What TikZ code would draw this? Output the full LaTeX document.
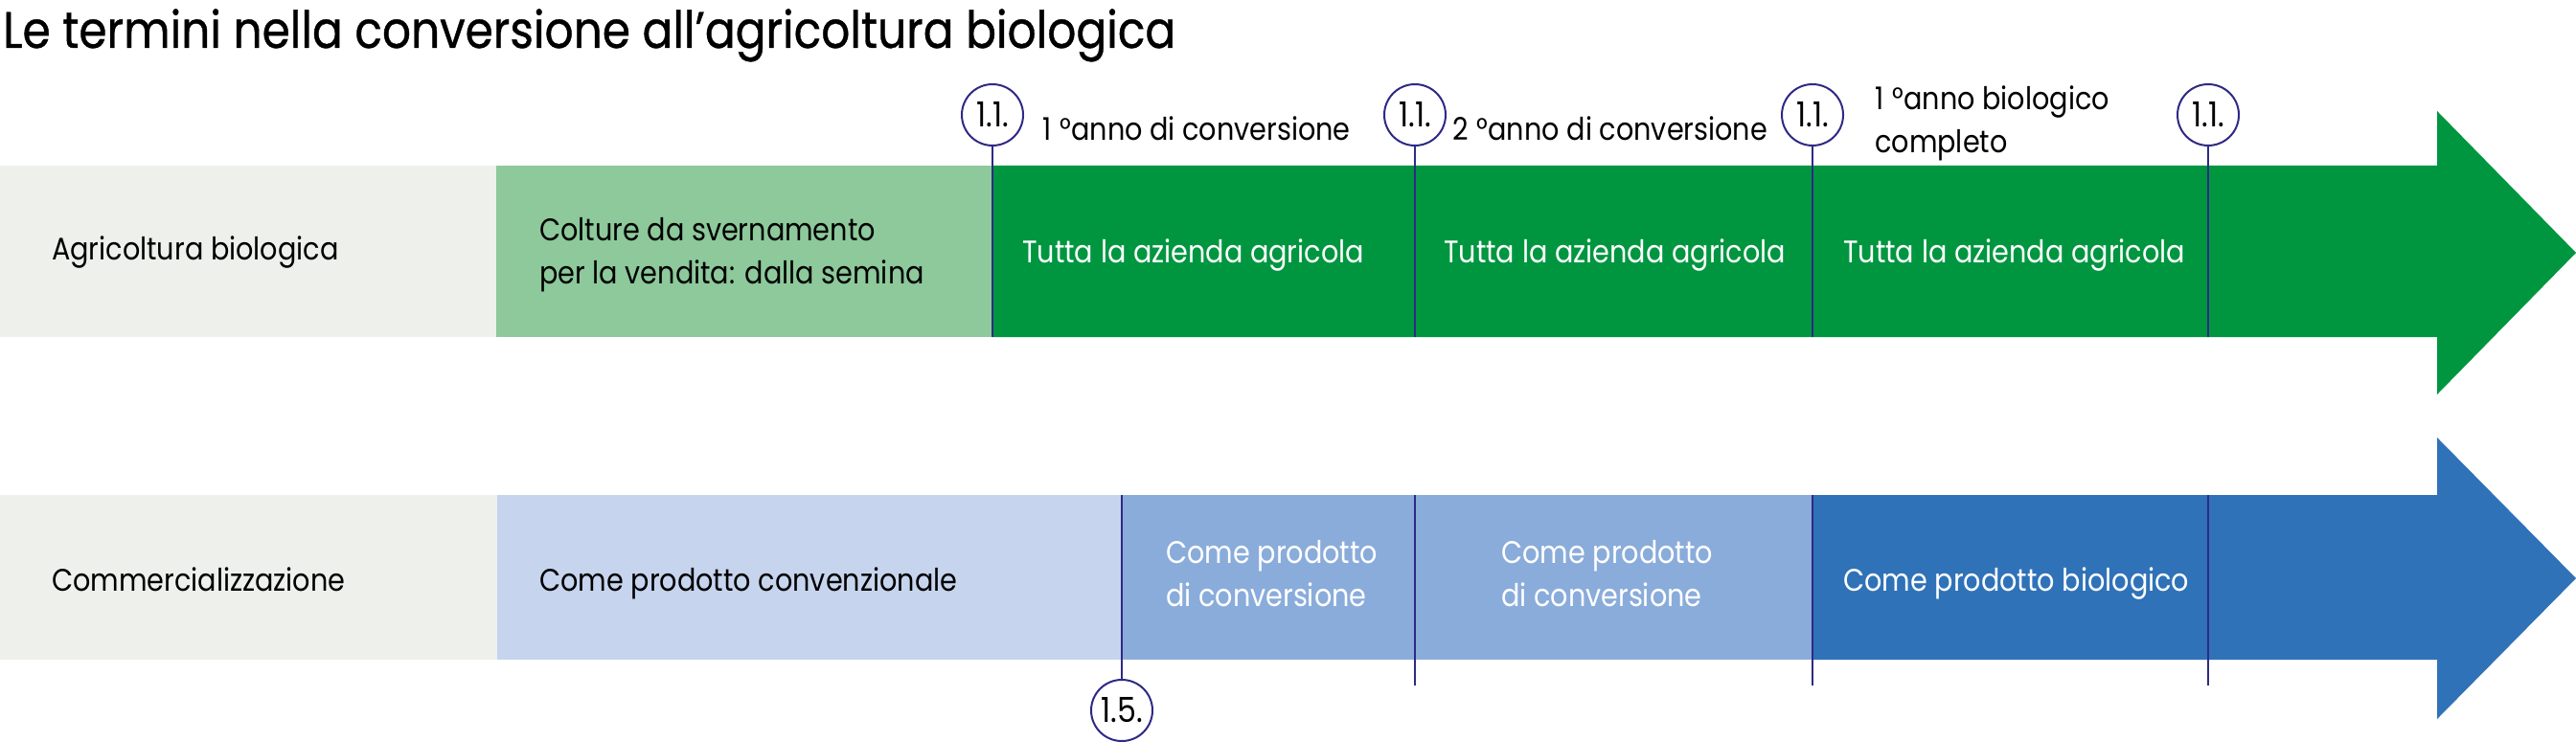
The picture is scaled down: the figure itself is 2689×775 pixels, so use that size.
\documentclass[tikz,border=0pt]{standalone}
\usepackage{fontspec}
\setmainfont{Poppins}[FakeStretch=0.88]
\newfontfamily\titlefont{Poppins}[FakeStretch=0.88,FakeBold=0.7]
\definecolor{greybox}{HTML}{EEF0EB}
\definecolor{lightgreen}{HTML}{8DC99B}
\definecolor{darkgreen}{HTML}{009640}
\definecolor{lightblue}{HTML}{C6D4EE}
\definecolor{midblue}{HTML}{8AACDA}
\definecolor{darkblue}{HTML}{2F72B8}
\definecolor{navy}{HTML}{2E2A85}
\begin{document}
\begin{tikzpicture}[x=1pt,y=-1pt,
  txt/.style={anchor=base west,inner sep=0pt,font=\fontsize{32.6}{45}\selectfont,align=left},
  wtxt/.style={txt,text=white},
  datecircle/.style={circle,draw=navy,line width=2pt,fill=white,minimum size=64pt,inner sep=0pt,font=\fontsize{36}{40}\selectfont},
  tick/.style={draw=navy,line width=2pt}]
\useasboundingbox (0,0) rectangle (2689,775);
% title
\node[anchor=base west,inner sep=0pt,font=\titlefont\fontsize{53.5}{60}\selectfont] (title) at (3,50) {Le termini nella conversione all’agricoltura biologica};
% row 1 bars
\fill[greybox] (0,173) rectangle (518,352);
\fill[lightgreen] (518,173) rectangle (1036,352);
\fill[darkgreen] (1036,173) -- (2544,173) -- (2544,116) -- (2689,264) -- (2544,412) -- (2544,352) -- (1036,352) -- cycle;
% row 2 bars
\fill[greybox] (0,517) rectangle (519,689);
\fill[lightblue] (519,517) rectangle (1171,689);
\fill[midblue] (1171,517) rectangle (1892,689);
\fill[darkblue] (1892,517) -- (2544,517) -- (2544,457) -- (2689,604) -- (2544,751) -- (2544,689) -- (1892,689) -- cycle;
% row 1 texts
\node[txt] (agri) at (54,272) {Agricoltura biologica};
\node[txt] (colture) at (563,297) {Colture da svernamento\\per la vendita: dalla semina};
\node[wtxt] (tutta1) at (1067,275) {Tutta la azienda agricola};
\node[wtxt] (tutta2) at (1507,275) {Tutta la azienda agricola};
\node[wtxt] (tutta3) at (1924,275) {Tutta la azienda agricola};
% year labels
\node[txt] (anno1) at (1088,147) {1\hspace{0.28em}°anno di conversione};
\node[txt] (anno2) at (1516,147) {2\hspace{0.28em}°anno di conversione};
\node[txt] (anno3) at (1957,160) {1\hspace{0.28em}°anno biologico\\completo};
% row 2 texts
\node[txt] (comm) at (54,617) {Commercializzazione};
\node[txt] (conv) at (563,617) {Come prodotto convenzionale};
\node[wtxt] (pconv1) at (1217,633) {Come prodotto\\di conversione};
\node[wtxt] (pconv2) at (1567,633) {Come prodotto\\di conversione};
\node[wtxt] (pbio) at (1924,617) {Come prodotto biologico};
% circles
\node[datecircle] (c1) at (1036,120) {1.1.};
\node[datecircle] (c2) at (1477,120) {1.1.};
\node[datecircle] (c3) at (1892,120) {1.1.};
\node[datecircle] (c4) at (2305,120) {1.1.};
\node[datecircle] (c5) at (1171,742) {1.5.};
% tick end points
\coordinate (r1b1) at (1036,352);
\coordinate (r1b2) at (1477,352);
\coordinate (r1b3) at (1892,352);
\coordinate (r1b4) at (2305,352);
\coordinate (r2t1) at (1171,517);
\coordinate (r2t2) at (1477,517);
\coordinate (r2t3) at (1892,517);
\coordinate (r2t4) at (2305,517);
\coordinate (r2e2) at (1477,716);
\coordinate (r2e3) at (1892,716);
\coordinate (r2e4) at (2305,716);
% ticks
\draw[tick] (c1.south) -- (r1b1);
\draw[tick] (c2.south) -- (r1b2);
\draw[tick] (c3.south) -- (r1b3);
\draw[tick] (c4.south) -- (r1b4);
\draw[tick] (r2t1) -- (c5.north);
\draw[tick] (r2t2) -- (r2e2);
\draw[tick] (r2t3) -- (r2e3);
\draw[tick] (r2t4) -- (r2e4);
\end{tikzpicture}
\end{document}
